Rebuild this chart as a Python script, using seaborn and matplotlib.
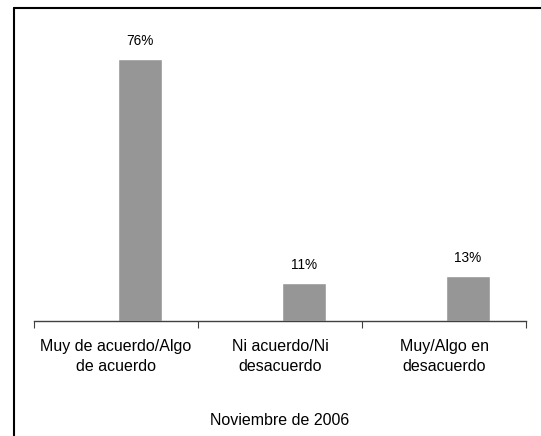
import pandas as pd
import matplotlib.pyplot as plt
import seaborn as sns
from matplotlib.lines import Line2D

# Data
categories = ["Muy de acuerdo/Algo\nde acuerdo", "Ni acuerdo/Ni\ndesacuerdo", "Muy/Algo en\ndesacuerdo"]
values = [76, 11, 13]
labels = ["76%", "11%", "13%"]
xlabel = "Noviembre de 2006"

df = pd.DataFrame({"cat": categories, "val": values})

sns.set_style("white")
plt.rcParams["font.family"] = ["Liberation Sans", "DejaVu Sans"]
plt.rcParams["text.color"] = "black"
plt.rcParams["axes.labelcolor"] = "black"
plt.rcParams["xtick.color"] = "black"

fig = plt.figure(figsize=(5.41, 4.36), dpi=100)
ax = fig.add_axes([0.0628, 0.2645, 0.9095, 0.632])

sns.barplot(data=df, x="cat", y="val", color="#969696", width=0.27,
            saturation=1, ax=ax)

# bars sit right of the category centre in the original
shift = 0.146
ax.set_ylim(0, 80)
ax.set_xlim(-0.5 - shift, 2.5 - shift)

# value labels above bars
for i, (v, t) in enumerate(zip(values, labels)):
    ax.annotate(t, (i, v), xytext=(0, 8), textcoords="offset points",
                ha="center", va="bottom", fontsize=9.8, color="black")

# axis styling: only the bottom axis line, ticks between categories
for s in ["top", "right", "left"]:
    ax.spines[s].set_visible(False)
ax.spines["bottom"].set_color("#404040")
ax.spines["bottom"].set_linewidth(1)
ax.set_yticks([])
ax.set_ylabel("")
ax.set_xticks([i - shift for i in range(3)], categories)
ax.set_xticks([i - 0.5 - shift for i in range(4)], minor=True)
ax.tick_params(axis="x", which="minor", bottom=True, length=5, width=0.8,
               color="#404040", direction="out")
ax.tick_params(axis="x", which="major", bottom=True, length=0, labelsize=11.5,
               pad=13, labelcolor="black")
for lab in ax.get_xticklabels():
    lab.set_linespacing(1.45)
ax.set_xlabel(xlabel, fontsize=11.5, labelpad=28, color="black")

# outer frame (left and top edges visible)
fig.add_artist(Line2D([13.5 / 541, 13.5 / 541], [0, 1 - 8 / 436],
                      transform=fig.transFigure, color="black", lw=1.5))
fig.add_artist(Line2D([13.5 / 541, 1], [1 - 8 / 436, 1 - 8 / 436],
                      transform=fig.transFigure, color="black", lw=1.5))

plt.savefig("out.png", dpi=100)
plt.close()
